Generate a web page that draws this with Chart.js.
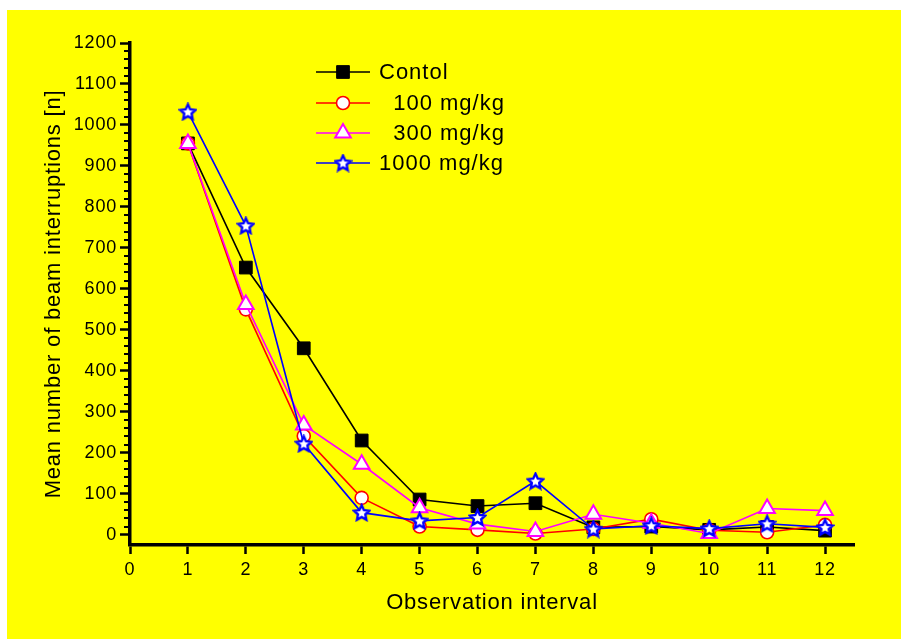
<!DOCTYPE html>
<html>
<head>
<meta charset="utf-8">
<script src="https://cdn.jsdelivr.net/npm/chart.js@4/dist/chart.umd.min.js"></script>
<style>
  html, body { margin: 0; padding: 0; background: #ffffff; }
  #panel { position: absolute; left: 7px; top: 10px; width: 894px; height: 629px; background: #ffff00; }
  canvas { display: block; }
</style>
</head>
<body>
<div id="panel"><canvas id="chart" width="894" height="629"></canvas></div>
<script>
// Observation intervals and mean beam interruptions per group
const intervals = [1, 2, 3, 4, 5, 6, 7, 8, 9, 10, 11, 12];
const controlValues  = [955, 652, 455, 230, 86, 70, 77, 18, 20, 12, 19, 10];
const dose100Values  = [955, 550, 241, 90, 20, 12, 3, 14, 38, 11, 6, 24];
const dose300Values  = [955, 562, 268, 172, 66, 26, 8, 50, 28, 3, 64, 59];
const dose1000Values = [1032, 754, 222, 54, 34, 42, 131, 14, 22, 15, 27, 18];

const seriesLabels = ['Contol', '  100 mg/kg', '  300 mg/kg', '1000 mg/kg'];
const xTickValues = [0, 1, 2, 3, 4, 5, 6, 7, 8, 9, 10, 11, 12];
const yTickValues = [0, 100, 200, 300, 400, 500, 600, 700, 800, 900, 1000, 1100, 1200];

const FONT = "'Liberation Sans', Arial, sans-serif";

// hollow five-pointed star marker
function makeStar(size, stroke, fill, lw) {
  const c = document.createElement('canvas');
  c.width = size; c.height = size;
  const g = c.getContext('2d');
  const cx = size / 2, cy = size / 2 + 0.6;
  const R = size / 2 - lw / 2 - 0.3, r = R * 0.48;
  g.beginPath();
  for (let i = 0; i < 10; i++) {
    const a = -Math.PI / 2 + i * Math.PI / 5;
    const rr = i % 2 ? r : R;
    g.lineTo(cx + rr * Math.cos(a), cy + rr * Math.sin(a));
  }
  g.closePath();
  g.fillStyle = fill; g.fill();
  g.lineWidth = lw; g.strokeStyle = stroke; g.lineJoin = 'miter';
  g.stroke();
  return c;
}
const starMarker = makeStar(19, '#0000ff', '#ffffff', 2.4);

const toPoints = vals => intervals.map((x, i) => ({ x: x, y: vals[i] }));

const datasets = [
  { label: seriesLabels[0], data: toPoints(controlValues), borderColor: '#000000', backgroundColor: '#000000',
    pointStyle: 'rect', pointRadius: 9, pointBorderWidth: 1, pointBorderColor: '#000000', pointBackgroundColor: '#000000', order: 3 },
  { label: seriesLabels[1], data: toPoints(dose100Values), borderColor: '#ff0000', backgroundColor: '#ffffff',
    pointStyle: 'circle', pointRadius: 6.5, pointBorderWidth: 1.6, pointBorderColor: '#ff0000', pointBackgroundColor: '#ffffff', order: 2 },
  { label: seriesLabels[2], data: toPoints(dose300Values), borderColor: '#ff00ff', backgroundColor: '#ffffff',
    pointStyle: 'triangle', pointRadius: 9, pointBorderWidth: 2, pointBorderColor: '#ff00ff', pointBackgroundColor: '#ffffff', order: 1 },
  { label: seriesLabels[3], data: toPoints(dose1000Values), borderColor: '#0000ff', backgroundColor: '#ffffff',
    pointStyle: starMarker, pointRadius: 9, pointBorderWidth: 0, order: 0 }
];
datasets.forEach(d => { d.borderWidth = 1.6; d.tension = 0; d.fill = false; });

// slightly spaced lettering for all chart text
const textSpacing = {
  id: 'textSpacing',
  beforeDraw(chart) { chart.ctx.letterSpacing = '0.8px'; }
};

// small ticks every 20 units on the value axis
const minorTicks = {
  id: 'minorTicks',
  afterDraw(chart) {
    const ctx = chart.ctx, y = chart.scales.y, left = chart.chartArea.left;
    ctx.save();
    ctx.strokeStyle = '#000'; ctx.lineWidth = 2;
    for (let v = 20; v < 1200; v += 20) {
      if (v % 100 === 0) continue;
      const py = Math.round(y.getPixelForValue(v));
      ctx.beginPath(); ctx.moveTo(left - 6, py); ctx.lineTo(left, py); ctx.stroke();
    }
    ctx.restore();
  }
};

// legend with line segment through each marker
const lineLegend = {
  id: 'lineLegend',
  afterDraw(chart) {
    const ctx = chart.ctx;
    const x0 = 309, x1 = 363, mx = 336, tx = 372;
    const ys = [62, 93, 123, 153];
    ctx.save();
    chart.data.datasets.forEach((ds, i) => {
      const y = ys[i];
      ctx.strokeStyle = ds.borderColor; ctx.lineWidth = 1.6;
      ctx.beginPath(); ctx.moveTo(x0, y); ctx.lineTo(x1, y); ctx.stroke();
      ctx.fillStyle = ds.pointBackgroundColor || '#fff';
      ctx.strokeStyle = ds.pointBorderColor || ds.borderColor;
      ctx.lineWidth = ds.pointBorderWidth;
      Chart.helpers.drawPoint(ctx, { pointStyle: ds.pointStyle, radius: ds.pointRadius, rotation: 0, borderWidth: ds.pointBorderWidth }, mx, y);
      ctx.fillStyle = '#000';
      ctx.font = '22px ' + FONT;
      ctx.letterSpacing = '1px';
      ctx.textBaseline = 'middle'; ctx.textAlign = 'left';
      ctx.fillText(ds.label, tx, y + 1);
    });
    ctx.restore();
  }
};

new Chart(document.getElementById('chart'), {
  type: 'line',
  data: { datasets: datasets },
  plugins: [textSpacing, minorTicks, lineLegend],
  options: {
    responsive: false,
    animation: false,
    events: [],
    layout: { padding: { left: 0, top: 33, right: 47, bottom: 0 } },
    plugins: { legend: { display: false }, tooltip: { enabled: false } },
    scales: {
      x: {
        type: 'linear', min: 0, max: 12.5,
        afterBuildTicks: s => { s.ticks = xTickValues.map(v => ({ value: v })); },
        afterFit: s => { s.height = 94; },
        grid: { drawOnChartArea: false, drawTicks: true, tickLength: 9, tickWidth: 2.5, tickColor: '#000' },
        border: { display: true, width: 3.5, color: '#000' },
        ticks: { color: '#000', padding: 5, font: { family: FONT, size: 18 }, maxRotation: 0, callback: v => String(v) },
        title: { display: true, text: 'Observation interval', color: '#000', font: { family: FONT, size: 22 }, padding: { top: 0, bottom: 23 } }
      },
      y: {
        type: 'linear', min: -25, max: 1200,
        afterBuildTicks: s => { s.ticks = yTickValues.map(v => ({ value: v })); },
        afterFit: s => { s.width = 123; },
        grid: { drawOnChartArea: false, drawTicks: true, tickLength: 10, tickWidth: 2.5, tickColor: '#000' },
        border: { display: true, width: 3.5, color: '#000' },
        ticks: { color: '#000', padding: 3, font: { family: FONT, size: 18 }, callback: v => String(v) },
        title: { display: true, text: 'Mean number of beam interruptions [n]', color: '#000', font: { family: FONT, size: 22 }, padding: { top: 34, bottom: 0 } }
      }
    }
  }
});
</script>
</body>
</html>
